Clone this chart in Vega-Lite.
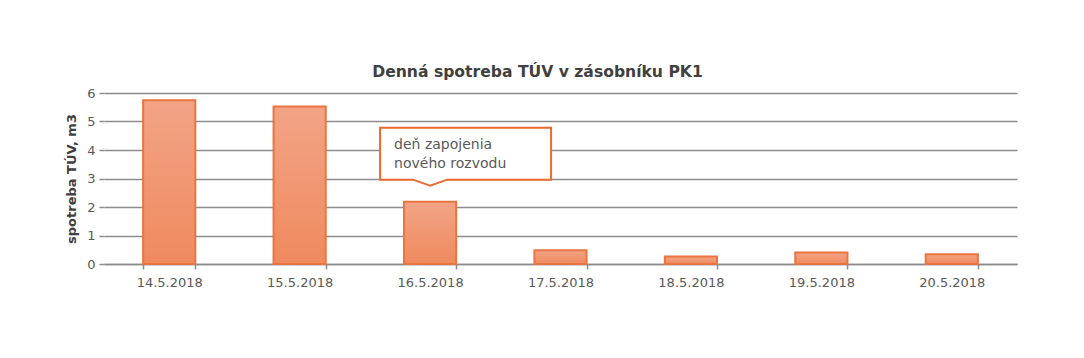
{
  "$schema": "https://vega.github.io/schema/vega-lite/v6.json",
  "width": 913,
  "height": 171,
  "autosize": {"type": "none"},
  "padding": {"left": 104, "top": 93, "right": 67, "bottom": 94},
  "background": "white",
  "config": {"view": {"stroke": null}},
  "title": {
    "text": "Denná spotreba TÚV v zásobníku PK1",
    "font": "DejaVu Sans",
    "fontSize": 15.6,
    "fontWeight": "bold",
    "color": "#404040",
    "anchor": "middle",
    "dx": -23,
    "offset": 6
  },
  "datasets": {
    "bars": [
      {"date": "14.5.2018", "value": 5.75},
      {"date": "15.5.2018", "value": 5.53},
      {"date": "16.5.2018", "value": 2.18},
      {"date": "17.5.2018", "value": 0.48},
      {"date": "18.5.2018", "value": 0.26},
      {"date": "19.5.2018", "value": 0.40},
      {"date": "20.5.2018", "value": 0.34}
    ],
    "note": [
      {"date": "16.5.2018", "value": 2.75, "text": ["deň zapojenia", "nového rozvodu"]}
    ]
  },
  "encoding": {
    "x": {
      "field": "date",
      "type": "ordinal",
      "sort": null,
      "scale": {"paddingInner": 0.6, "paddingOuter": 0.3},
      "axis": {
        "title": null,
        "labelAngle": 0,
        "labelFont": "DejaVu Sans",
        "labelFontSize": 13,
        "labelColor": "#595959",
        "labelPadding": 7,
        "domainColor": "#8c8c8c",
        "domainWidth": 1.5,
        "tickColor": "#8c8c8c",
        "tickWidth": 1.5,
        "tickSize": 5,
        "tickBand": "extent",
        "grid": false
      }
    },
    "y": {
      "field": "value",
      "type": "quantitative",
      "scale": {"domain": [0, 6], "nice": false},
      "axis": {
        "title": "spotreba TÚV, m3",
        "titleFont": "DejaVu Sans",
        "titleFontSize": 13,
        "titleFontWeight": "bold",
        "titleColor": "#404040",
        "titlePadding": 8,
        "values": [0, 1, 2, 3, 4, 5, 6],
        "labelFont": "DejaVu Sans",
        "labelFontSize": 13,
        "labelColor": "#595959",
        "labelPadding": 4,
        "domain": false,
        "tickColor": "#8c8c8c",
        "tickWidth": 1.5,
        "tickSize": 5,
        "gridColor": "#8c8c8c",
        "gridWidth": 1.5
      }
    }
  },
  "layer": [
    {
      "data": {"name": "bars"},
      "mark": {
        "type": "bar",
        "stroke": "#ec7440",
        "strokeWidth": 2,
        "color": {
          "gradient": "linear",
          "x1": 0, "y1": 0, "x2": 0, "y2": 1,
          "stops": [
            {"offset": 0, "color": "#f2a486"},
            {"offset": 1, "color": "#ef8a5e"}
          ]
        }
      }
    },
    {
      "data": {"name": "note"},
      "mark": {
        "type": "point",
        "shape": "M0,0 L-0.2,-0.07 L-0.585,-0.07 L-0.585,-0.678 L1.415,-0.678 L1.415,-0.07 L0.2,-0.07 Z",
        "size": 29241,
        "filled": true,
        "fill": "white",
        "fillOpacity": 1,
        "opacity": 1,
        "stroke": "#ec6a30",
        "strokeWidth": 2
      }
    },
    {
      "data": {"name": "note"},
      "mark": {
        "type": "text",
        "align": "left",
        "baseline": "top",
        "dx": -36,
        "dy": -48,
        "font": "DejaVu Sans",
        "fontSize": 14,
        "lineHeight": 19,
        "color": "#595959"
      },
      "encoding": {"text": {"field": "text"}}
    }
  ]
}
